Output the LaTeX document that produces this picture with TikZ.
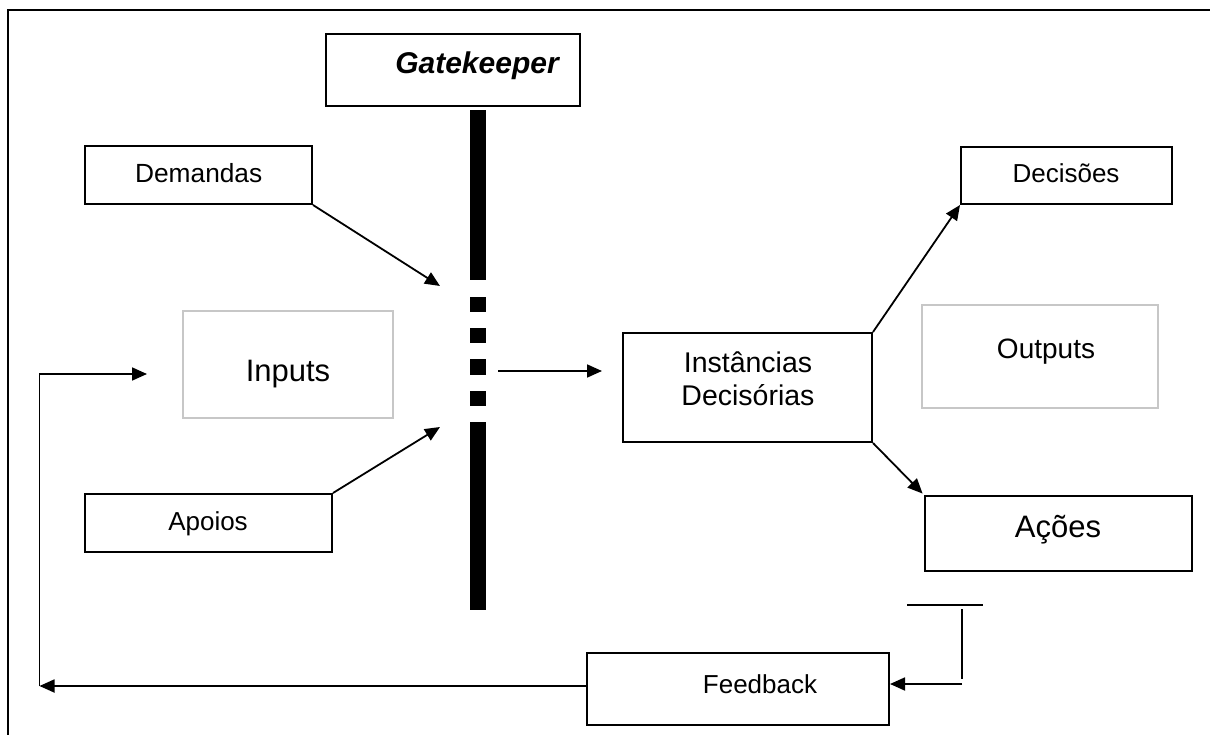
\documentclass[tikz,border=0pt]{standalone}
\usepackage{fontspec}
\setmainfont{Liberation Sans}
\usetikzlibrary{arrows.meta}
\begin{document}
\begin{tikzpicture}[x=1pt,y=-1pt,
  box/.style={draw=black, line width=2pt, inner sep=0pt, rectangle},
  softbox/.style={draw=black!22, line width=1.3pt, inner sep=0pt, rectangle},
  lbl/.style={anchor=base, inner sep=0pt},
  conn/.style={line width=1.8pt, -{Triangle[length=15pt,width=13pt]}},
  plain/.style={line width=1.8pt},
  gate/.style={fill=black, draw=none}]

\useasboundingbox (0,0) rectangle (1210,735);

% outer frame
\draw[line width=2.5pt] (8,735) -- (8,10) -- (1210,10);

% boxes
\node[box, minimum width=254pt, minimum height=72pt]  (gk)   at (453,70) {};
\node[box, minimum width=227pt, minimum height=58pt]  (dem)  at (198.5,175) {};
\node[softbox, minimum width=210pt, minimum height=107pt] (inp) at (288,364.5) {};
\node[box, minimum width=247pt, minimum height=58pt]  (apo)  at (208.5,523) {};
\node[box, minimum width=249pt, minimum height=109pt] (inst) at (747.5,387.5) {};
\node[softbox, minimum width=236pt, minimum height=103pt] (outp) at (1040,356.5) {};
\node[box, minimum width=211pt, minimum height=57pt]  (dec)  at (1066.5,175.5) {};
\node[box, minimum width=267pt, minimum height=75pt]  (aco)  at (1058.5,533.5) {};
\node[box, minimum width=302pt, minimum height=72pt]  (fb)   at (738,689) {};

% texts
\node[lbl, font={\fontsize{30}{36}\selectfont\bfseries\itshape}] (gkt) at (477,74) {Gatekeeper};
\node[lbl, font={\fontsize{26.3}{31}\selectfont}] (demt) at (198.7,183) {Demandas};
\node[lbl, font={\fontsize{31}{37}\selectfont}] (inpt) at (288,381) {Inputs};
\node[lbl, font={\fontsize{26}{31}\selectfont}] (apot) at (208,530) {Apoios};
\node[lbl, font={\fontsize{28.5}{34}\selectfont}] (inst1) at (748,372) {Instâncias};
\node[lbl, font={\fontsize{28.5}{34}\selectfont}] (inst2) at (748,405) {Decisórias};
\node[lbl, font={\fontsize{28}{34}\selectfont}] (outt) at (1046,358) {Outputs};
\node[lbl, font={\fontsize{26}{31}\selectfont}] (dect) at (1066,183) {Decisões};
\node[lbl, font={\fontsize{31}{37}\selectfont}] (acot) at (1058,537) {Ações};
\node[lbl, font={\fontsize{26}{31}\selectfont}] (fbt) at (760,693) {Feedback};

% the gatekeeper barrier
\fill[gate] (470,110) rectangle (486,280);
\fill[gate] (470,297) rectangle (486,312);
\fill[gate] (470,328) rectangle (486,343);
\fill[gate] (470,359) rectangle (486,375);
\fill[gate] (470,391) rectangle (486,406);
\fill[gate] (470,422) rectangle (486,610);

% connector end points
\coordinate (dIn) at (440,286);
\coordinate (aIn) at (440,427);
\coordinate (gOut) at (498,371);
\coordinate (iIn) at (602,371);
\coordinate (fbL) at (39.5,686);
\coordinate (fbTop) at (39.5,374);
\coordinate (inTip) at (147,374);
\coordinate (acT1) at (907,605);
\coordinate (acT2) at (983,605);
\coordinate (fbV1) at (962,609);
\coordinate (fbV2) at (962,679);
\coordinate (fbR) at (962,684);

% connectors
\draw[conn] (dem.south east) -- (dIn);
\draw[conn] (apo.north east) -- (aIn);
\draw[conn] (gOut) -- (iIn);
\draw[conn] (inst.north east) -- (dec.south west);
\draw[conn, shorten >=2pt] (inst.south east) -- (aco.north west);
\draw[conn] (fb.west |- fbL) -- (fbL);
\draw[conn] (fbL) -- (fbTop) -- (inTip);
\draw[plain] (acT1) -- (acT2);
\draw[plain] (fbV1) -- (fbV2);
\draw[conn] (fbR) -- (fb.east |- fbR);
\end{tikzpicture}
\end{document}
